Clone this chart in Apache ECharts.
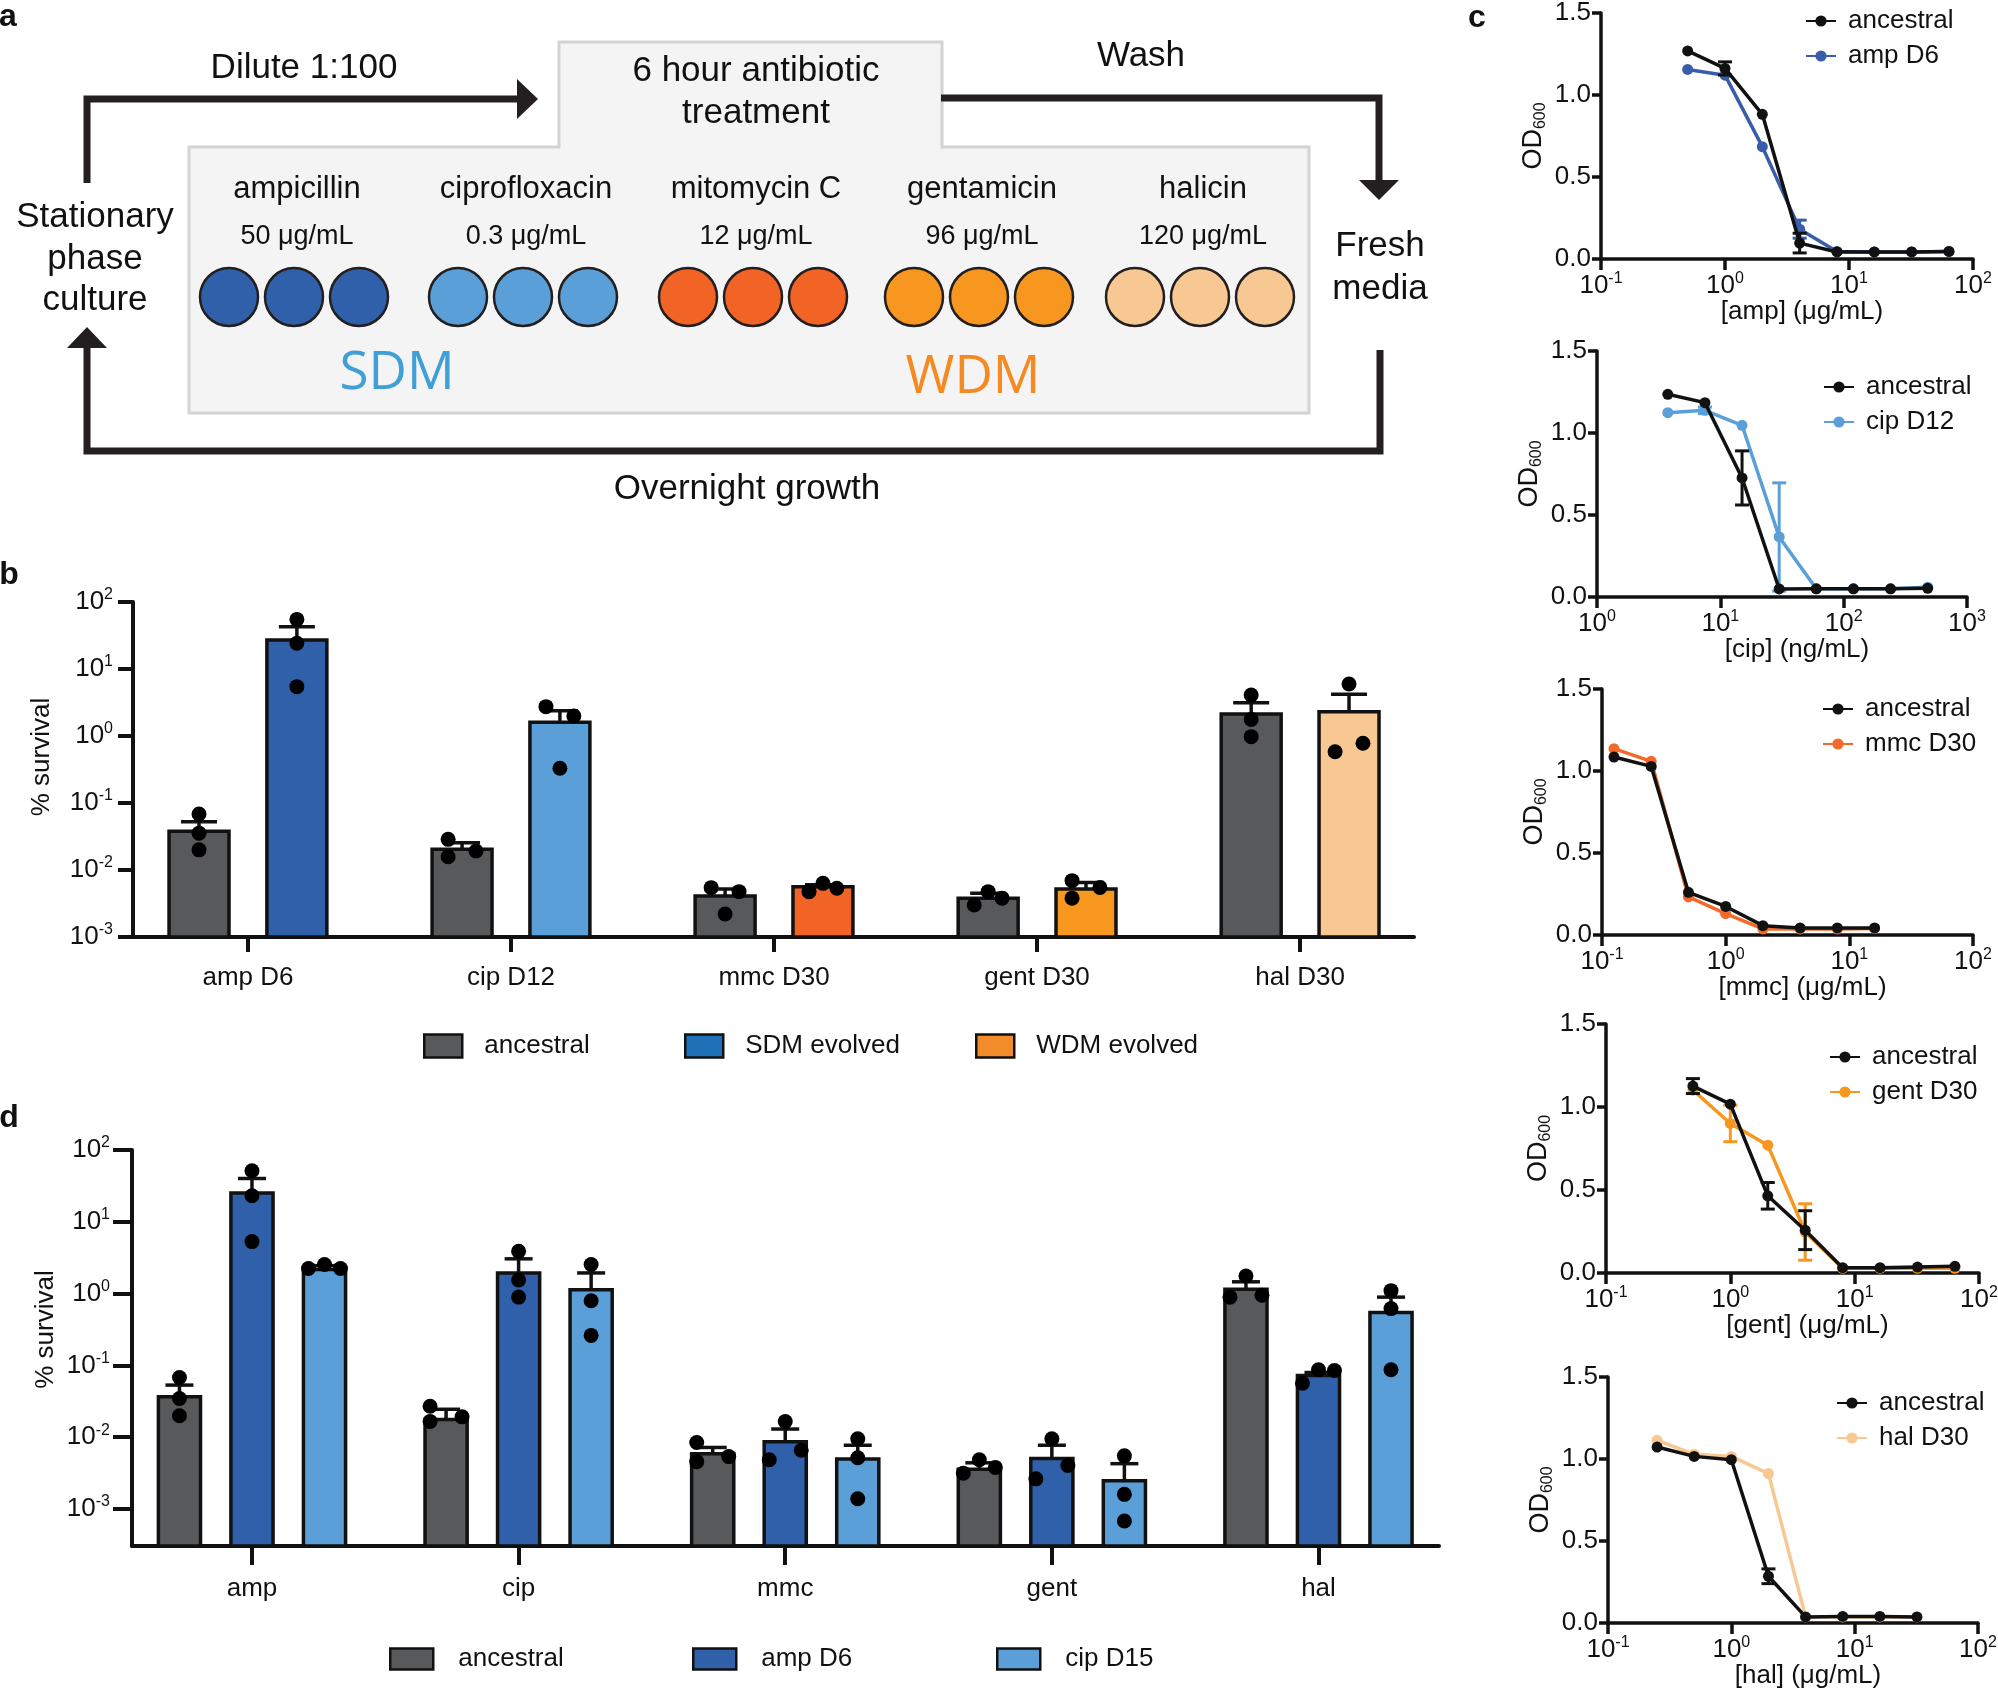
<!DOCTYPE html>
<html>
<head>
<meta charset="utf-8">
<script src="https://cdn.jsdelivr.net/npm/echarts@6/dist/echarts.min.js"></script>
<style>
  html, body { margin: 0; padding: 0; background: #fff; }
  #fig { width: 1998px; height: 1701px; }
</style>
</head>
<body>
<div id="fig"></div>
<script>
// ---- panel b : % survival, evolved lines vs ancestral ----
var catsB = ['amp D6', 'cip D12', 'mmc D30', 'gent D30', 'hal D30'];
var ancMeanB = [0.038, 0.0204, 0.0041, 0.0038, 2.13];
var ancUpperB = [0.0526, 0.0256, 0.0052, 0.0045, 3.14];
var ancDotsB = [[0.0686, 0.0355, 0.020], [0.0287, 0.0192, 0.0158], [0.00545, 0.00475, 0.0022], [0.00475, 0.0038, 0.0030], [4.09, 1.77, 0.977]];
var evoMeanB = [27.1, 1.60, 0.0056, 0.0052, 2.31];
var evoUpperB = [42.8, 2.39, 0.0060, 0.0065, 4.19];
var evoDotsB = [[55, 24.2, 5.45], [2.74, 1.99, 0.33], [0.00632, 0.00475, 0.00533], [0.00694, 0.0055, 0.0038], [5.97, 0.583, 0.778]];

// ---- panel d : cross-survival of amp D6 / cip D15 ----
var catsD = ['amp', 'cip', 'mmc', 'gent', 'hal'];
var ancMeanD = [0.0367, 0.0176, 0.0059, 0.00357, 1.15];
var ancUpperD = [0.0532, 0.0245, 0.0072, 0.0044, 1.46];
var ancDotsD = [[0.0678, 0.0346, 0.0199], [0.027, 0.0192, 0.0166], [0.00843, 0.00457, 0.00537], [0.00486, 0.0038, 0.00316], [1.76, 0.893, 0.95]];
var ampMeanD = [25.2, 1.94, 0.00863, 0.00504, 0.0723];
var ampUpperD = [40.1, 3.05, 0.0130, 0.00773, 0.0796];
var ampDotsD = [[51.3, 23.1, 5.3], [3.89, 1.55, 0.894], [0.01656, 0.00659, 0.00486], [0.00953, 0.00403, 0.00263], [0.0869, 0.085, 0.0565]];
var cipMeanD = [2.17, 1.13, 0.00498, 0.00247, 0.547];
var cipUpperD = [2.45, 1.94, 0.00773, 0.00428, 0.893];
var cipDotsD = [[2.24, 2.54, 2.24], [2.54, 0.794, 0.262], [0.00953, 0.00517, 0.00139], [0.0055, 0.0016, 0.00068], [1.10, 0.618, 0.0869]];

// ---- panel c : OD600 dose response ----
var ampConc = [0.5, 1, 2, 4, 8, 16, 32, 64];
var ampAnc = [1.269, 1.162, 0.882, 0.097, 0.043, 0.043, 0.043, 0.046];
var ampAncErr = [0, 0.04, 0, 0.06, 0, 0, 0, 0];
var ampD6 = [1.156, 1.121, 0.685, 0.182, 0.046, 0.043, 0.043, 0.046];
var ampD6Err = [0, 0, 0, 0.055, 0, 0, 0, 0];

var cipConc = [3.75, 7.5, 15, 30, 60, 120, 240, 480];
var cipAnc = [1.236, 1.185, 0.726, 0.049, 0.05, 0.05, 0.05, 0.053];
var cipAncErr = [0, 0, 0.165, 0, 0, 0, 0, 0];
var cipD12 = [1.124, 1.138, 1.047, 0.366, 0.05, 0.05, 0.05, 0.06];
var cipD12Err = [0, 0.02, 0, 0.33, 0, 0, 0, 0];

var mmcConc = [0.125, 0.25, 0.5, 1, 2, 4, 8, 16];
var mmcAnc = [1.085, 1.028, 0.26, 0.174, 0.057, 0.043, 0.043, 0.043];
var mmcD30 = [1.136, 1.059, 0.232, 0.13, 0.037, 0.037, 0.037, 0.04];

var gentConc = [0.5, 1, 2, 4, 8, 16, 32, 64];
var gentAnc = [1.126, 1.017, 0.465, 0.258, 0.032, 0.032, 0.036, 0.04];
var gentAncErr = [0.045, 0, 0.08, 0.117, 0, 0, 0, 0];
var gentD30 = [1.102, 0.901, 0.77, 0.247, 0.028, 0.028, 0.028, 0.028];
var gentD30Err = [0, 0.11, 0, 0.17, 0, 0, 0, 0];

var halConc = [0.25, 0.5, 1, 2, 4, 8, 16, 32];
var halAnc = [1.073, 1.016, 0.996, 0.285, 0.037, 0.04, 0.04, 0.037];
var halAncErr = [0, 0, 0, 0.045, 0, 0, 0, 0];
var halD30 = [1.114, 1.029, 1.016, 0.911, 0.037, 0.037, 0.037, 0.037];

// ---- panel a : schematic text ----
var drugNames = ['ampicillin', 'ciprofloxacin', 'mitomycin C', 'gentamicin', 'halicin'];
var drugDoses = ['50 μg/mL', '0.3 μg/mL', '12 μg/mL', '96 μg/mL', '120 μg/mL'];

// dot jitter (-1 left, 0 centre, 1 right), layout only
var ancJitB = [[0, 0, 0], [-1, 1, -1], [-1, 1, 0], [0, 1, -1], [0, 0, 0]];
var evoJitB = [[0, 0, 0], [-1, 1, 0], [0, -1, 1], [-1, 1, -1], [0, -1, 1]];
var ancJitD = [[0, 0, 0], [-1, 1, -1], [-1, -1, 1], [0, 1, -1], [0, -1, 1]];
var ampJitD = [[0, 0, 0], [0, 0, 0], [0, 1, -1], [0, 1, -1], [0, 1, -1]];
var cipJitD = [[-1, 0, 1], [0, 0, 0], [0, 0, 0], [0, 0, 0], [0, 0, 0]];

var FONT = '"Liberation Sans", Arial, Helvetica, sans-serif';
var INK = '#111111';
var GREY = '#58595b';
var AMP = '#3160ab', CIP = '#5a9fd8', MMC = '#f26426', GENT = '#f7971f', HAL = '#f8c893';
var evoFillB = [AMP, CIP, MMC, GENT, HAL];

var chart = echarts.init(document.getElementById('fig'));

function powLabel(v) {
    var e = Math.round(Math.log(v) / Math.LN10);
    return '{b|10}{s|' + e + '}';
}
var powRich = {
    b: { fontSize: 26, fontFamily: FONT, color: INK, lineHeight: 30 },
    s: { fontSize: 16, fontFamily: FONT, color: INK, lineHeight: 20, verticalAlign: 'top' }
};
var noName = function (n) { return n.split('#')[0]; };

//bar drawn from the axis bottom up to the mean
function barSeries(name, xi, offset, halfW, means, idx, fills, legendColor) {
    return {
        type: 'custom', name: name, xAxisIndex: xi, yAxisIndex: xi, z: 2,
        encode: { x: 0, y: 1 },
        itemStyle: { color: legendColor, borderColor: INK, borderWidth: 2 },
        renderItem: function (params, api) {
            var x = api.value(0), v = api.value(1);
            var p0 = api.coord([x - halfW, v]);
            var p1 = api.coord([x + halfW, v]);
            var cs = params.coordSys;
            return {
                type: 'rect',
                shape: { x: p0[0], y: p0[1], width: p1[0] - p0[0], height: cs.y + cs.height - p0[1] },
                style: { fill: api.visual('color'), stroke: INK, lineWidth: 3.5 }
            };
        },
        data: idx.map(function (i) {
            return { value: [i + offset, means[i]], itemStyle: { color: fills[i] } };
        })
    };
}

//upper SEM whisker
function upErrSeries(xi, offset, cap, means, uppers) {
    return {
        type: 'custom', xAxisIndex: xi, yAxisIndex: xi, z: 3,
        encode: { x: 0, y: 1 },
        renderItem: function (params, api) {
            var a = api.coord([api.value(0), api.value(1)]);
            var b = api.coord([api.value(0), api.value(2)]);
            var st = { stroke: INK, lineWidth: 3.5 };
            return {
                type: 'group', children: [
                    { type: 'line', shape: { x1: a[0], y1: a[1], x2: b[0], y2: b[1] }, style: st },
                    { type: 'line', shape: { x1: b[0] - cap, y1: b[1], x2: b[0] + cap, y2: b[1] }, style: st }
                ]
            };
        },
        data: means.map(function (m, i) { return [i + offset, m, uppers[i]]; })
    };
}

function dotSeries(xi, offset, unit, dots, jit) {
    var pts = [];
    dots.forEach(function (row, i) {
        row.forEach(function (v, k) { pts.push([i + offset + jit[i][k] * unit, v]); });
    });
    return {
        type: 'scatter', xAxisIndex: xi, yAxisIndex: xi, z: 4,
        symbol: 'circle', symbolSize: 15, itemStyle: { color: '#000', opacity: 1 }, data: pts
    };
}

function lineSeries(name, gi, xs, ys, color, z) {
    return {
        type: 'line', name: name, xAxisIndex: gi, yAxisIndex: gi, z: z,
        symbol: 'circle', symbolSize: 11, showSymbol: true,
        lineStyle: { color: color, width: 3.5 }, itemStyle: { color: color, opacity: 1 },
        data: xs.map(function (x, i) { return [x, ys[i]]; })
    };
}

function symErrSeries(gi, xs, ys, errs, color, z) {
    var d = [];
    xs.forEach(function (x, i) { if (errs[i] > 0) d.push([x, ys[i], errs[i]]); });
    return {
        type: 'custom', xAxisIndex: gi, yAxisIndex: gi, z: z,
        encode: { x: 0, y: 1 },
        renderItem: function (params, api) {
            var x = api.value(0), y = api.value(1), e = api.value(2);
            var lo = api.coord([x, y - e]), hi = api.coord([x, y + e]);
            var st = { stroke: color, lineWidth: 3 };
            return {
                type: 'group', children: [
                    { type: 'line', shape: { x1: lo[0], y1: lo[1], x2: hi[0], y2: hi[1] }, style: st },
                    { type: 'line', shape: { x1: lo[0] - 7, y1: lo[1], x2: lo[0] + 7, y2: lo[1] }, style: st },
                    { type: 'line', shape: { x1: hi[0] - 7, y1: hi[1], x2: hi[0] + 7, y2: hi[1] }, style: st }
                ]
            };
        },
        data: d
    };
}

var axisLineStyle = { color: INK, width: 4 };
var thinLine = { color: INK, width: 3.5 };

function catXAxis(gi, cats, min, max, tickLen, margin) {
    return {
        type: 'value', gridIndex: gi, min: min, max: max,
        splitLine: { show: false },
        axisLine: { show: true, onZero: false, lineStyle: axisLineStyle },
        axisTick: { show: true, customValues: [0, 1, 2, 3, 4], length: tickLen, lineStyle: axisLineStyle },
        axisLabel: {
            customValues: [0, 1, 2, 3, 4], margin: margin, fontSize: 26, fontFamily: FONT, color: INK,
            formatter: function (v) { return cats[Math.round(v)]; }
        }
    };
}

function survivalYAxis(gi, min, gap, shift, tickLen, margin, custom) {
    var ax = {
        type: 'log', logBase: 10, gridIndex: gi, min: min, max: 100,
        name: '% survival', nameLocation: 'middle', nameGap: gap, nameMoveOverlap: false,
        nameTextStyle: { fontSize: 26, fontFamily: FONT, color: INK, padding: [0, 0, 0, shift] },
        splitLine: { show: false },
        axisLine: { show: true, onZero: false, lineStyle: axisLineStyle },
        axisTick: { show: true, length: tickLen, lineStyle: axisLineStyle },
        axisLabel: { margin: margin, formatter: powLabel, rich: powRich }
    };
    if (custom) {
        ax.axisTick.customValues = custom;
        ax.axisLabel.customValues = custom;
    }
    return ax;
}

function concXAxis(gi, min, max, name) {
    return {
        type: 'log', logBase: 10, gridIndex: gi, min: min, max: max,
        name: name, nameLocation: 'middle', nameGap: 40, nameMoveOverlap: false,
        nameTextStyle: { fontSize: 26, fontFamily: FONT, color: INK, padding: [0, 0, 0, 30] },
        splitLine: { show: false },
        axisLine: { show: true, onZero: false, lineStyle: thinLine },
        axisTick: { show: true, length: 11, lineStyle: thinLine },
        axisLabel: { margin: 12, formatter: powLabel, rich: powRich }
    };
}

function odYAxis(gi) {
    return {
        type: 'value', gridIndex: gi, min: 0, max: 1.5, interval: 0.5,
        name: '{m|OD}{u|600}', nameLocation: 'middle', nameGap: 52, nameMoveOverlap: false,
        nameTextStyle: {
            rich: {
                m: { fontSize: 27, fontFamily: FONT, color: INK, lineHeight: 30 },
                u: { fontSize: 16, fontFamily: FONT, color: INK, lineHeight: 18, verticalAlign: 'bottom' }
            }
        },
        splitLine: { show: false },
        axisLine: { show: true, onZero: false, lineStyle: thinLine },
        axisTick: { show: true, length: 9, lineStyle: thinLine },
        axisLabel: {
            margin: 10, fontSize: 26, fontFamily: FONT, color: INK,
            formatter: function (v) { return v.toFixed(1); }
        }
    };
}

function swatchLegend(name, left, top, w, h, pad) {
    return {
        data: [name], left: left - 5, top: top - 5, icon: 'rect', itemWidth: w, itemHeight: h,
        selectedMode: false, formatter: noName,
        itemStyle: { borderColor: INK, borderWidth: 2.5 },
        textStyle: { fontSize: 26, fontFamily: FONT, color: INK, lineHeight: 28, padding: [0, 0, 0, pad] }
    };
}

function lineLegend(names, left, top) {
    return {
        data: names, left: left - 5, top: top - 5, orient: 'vertical', itemGap: 7,
        itemWidth: 30, itemHeight: 14, selectedMode: false, formatter: noName,
        textStyle: { fontSize: 26, fontFamily: FONT, color: INK, lineHeight: 28, padding: [0, 0, 0, 7] }
    };
}

// panel a drawing
function txt(str, x, y, size, color, extra) {
    var st = {
        text: str, fontSize: size, fontFamily: FONT, fill: color || INK,
        align: 'center', verticalAlign: 'middle', textAlign: 'center', textVerticalAlign: 'middle'
    };
    if (extra) { for (var k in extra) st[k] = extra[k]; }
    return { type: 'text', x: x, y: y, style: st, silent: true };
}
var LINE = '#231f20';
var flowStroke = { stroke: LINE, lineWidth: 7, fill: null };
var graphics = [
    { type: 'polygon', shape: { points: [[559, 42], [942, 42], [942, 147], [1309, 147], [1309, 413], [189, 413], [189, 147], [559, 147]] },
      style: { fill: '#f4f4f4', stroke: '#d3d3d3', lineWidth: 3 } },
    { type: 'polyline', shape: { points: [[87, 183], [87, 99], [520, 99]] }, style: flowStroke },
    { type: 'polygon', shape: { points: [[517, 79], [538, 99], [517, 119]] }, style: { fill: LINE } },
    { type: 'polyline', shape: { points: [[941, 98], [1379, 98], [1379, 182]] }, style: flowStroke },
    { type: 'polygon', shape: { points: [[1359, 180], [1399, 180], [1379, 200]] }, style: { fill: LINE } },
    { type: 'polyline', shape: { points: [[1380, 350], [1380, 451], [87, 451], [87, 346]] }, style: flowStroke },
    { type: 'polygon', shape: { points: [[67, 348], [107, 348], [87, 327]] }, style: { fill: LINE } },
    txt('Dilute 1:100', 304, 68, 35),
    txt('6 hour antibiotic', 756, 71, 35),
    txt('treatment', 756, 113, 35),
    txt('Wash', 1141, 56, 35),
    txt('Stationary', 95, 217, 35),
    txt('phase', 95, 259, 35),
    txt('culture', 95, 300, 35),
    txt('Fresh', 1380, 246, 35),
    txt('media', 1380, 289, 35),
    txt('Overnight growth', 747, 489, 35),
    txt('SDM', 397, 374, 53, '#3f9fd6', { fontFamily: '"Open Sans", ' + FONT }),
    txt('WDM', 973, 378, 53, '#f48a21', { fontFamily: '"Open Sans", ' + FONT }),
    txt('a', 8, 17, 32, INK, { fontWeight: 'bold' }),
    txt('b', 9, 575, 32, INK, { fontWeight: 'bold' }),
    txt('c', 1477, 18, 32, INK, { fontWeight: 'bold' }),
    txt('d', 9, 1118, 32, INK, { fontWeight: 'bold' })
];
var groupX = [294, 523, 753, 979, 1200];
var wellFill = [AMP, CIP, MMC, GENT, HAL];
groupX.forEach(function (gx, i) {
    graphics.push(txt(drugNames[i], gx + 3, 189, 31));
    graphics.push(txt(drugDoses[i], gx + 3, 237, 27));
    [-65, 0, 65].forEach(function (dx) {
        graphics.push({ type: 'circle', shape: { cx: gx + dx, cy: 297, r: 29 },
            style: { fill: wellFill[i], stroke: LINE, lineWidth: 2.5 }, silent: true });
    });
});

var grid = [
    { left: 133, top: 602, width: 1281, height: 335 },
    { left: 132, top: 1150, width: 1307, height: 396 },
    { left: 1601, top: 13, width: 372, height: 246 },
    { left: 1597, top: 351, width: 370, height: 246 },
    { left: 1602, top: 689, width: 371, height: 246 },
    { left: 1606, top: 1024, width: 373, height: 249 },
    { left: 1608, top: 1377, width: 370, height: 246 }
].map(function (g) { g.outerBoundsMode = 'none'; g.containLabel = false; return g; });

var bOff = 0.186, bHalf = 0.114, bUnit = 0.053;
var dOff = 0.272, dHalf = 0.079, dUnit = 0.06;

var series = [
    barSeries('ancestral#b', 0, -bOff, bHalf, ancMeanB, [0, 1, 2, 3, 4], [GREY, GREY, GREY, GREY, GREY], GREY),
    barSeries('SDM evolved', 0, bOff, bHalf, evoMeanB, [0, 1], evoFillB, '#1f72b8'),
    barSeries('WDM evolved', 0, bOff, bHalf, evoMeanB, [2, 3, 4], evoFillB, '#f28b2a'),
    upErrSeries(0, -bOff, 18, ancMeanB, ancUpperB),
    upErrSeries(0, bOff, 18, evoMeanB, evoUpperB),
    dotSeries(0, -bOff, bUnit, ancDotsB, ancJitB),
    dotSeries(0, bOff, bUnit, evoDotsB, evoJitB),

    barSeries('ancestral#d', 1, -dOff, dHalf, ancMeanD, [0, 1, 2, 3, 4], [GREY, GREY, GREY, GREY, GREY], GREY),
    barSeries('amp D6#d', 1, 0, dHalf, ampMeanD, [0, 1, 2, 3, 4], [AMP, AMP, AMP, AMP, AMP], AMP),
    barSeries('cip D15#d', 1, dOff, dHalf, cipMeanD, [0, 1, 2, 3, 4], [CIP, CIP, CIP, CIP, CIP], CIP),
    upErrSeries(1, -dOff, 14, ancMeanD, ancUpperD),
    upErrSeries(1, 0, 14, ampMeanD, ampUpperD),
    upErrSeries(1, dOff, 14, cipMeanD, cipUpperD),
    dotSeries(1, -dOff, dUnit, ancDotsD, ancJitD),
    dotSeries(1, 0, dUnit, ampDotsD, ampJitD),
    dotSeries(1, dOff, dUnit, cipDotsD, cipJitD),

    lineSeries('amp D6#c1', 2, ampConc, ampD6, '#3a5dab', 3),
    symErrSeries(2, ampConc, ampD6, ampD6Err, '#3a5dab', 4),
    lineSeries('ancestral#c1', 2, ampConc, ampAnc, INK, 5),
    symErrSeries(2, ampConc, ampAnc, ampAncErr, INK, 6),

    lineSeries('cip D12#c2', 3, cipConc, cipD12, CIP, 3),
    symErrSeries(3, cipConc, cipD12, cipD12Err, CIP, 4),
    lineSeries('ancestral#c2', 3, cipConc, cipAnc, INK, 5),
    symErrSeries(3, cipConc, cipAnc, cipAncErr, INK, 6),

    lineSeries('mmc D30#c3', 4, mmcConc, mmcD30, '#f26a2a', 3),
    lineSeries('ancestral#c3', 4, mmcConc, mmcAnc, INK, 5),

    lineSeries('gent D30#c4', 5, gentConc, gentD30, GENT, 3),
    symErrSeries(5, gentConc, gentD30, gentD30Err, GENT, 4),
    lineSeries('ancestral#c4', 5, gentConc, gentAnc, INK, 5),
    symErrSeries(5, gentConc, gentAnc, gentAncErr, INK, 6),

    lineSeries('hal D30#c5', 6, halConc, halD30, HAL, 3),
    lineSeries('ancestral#c5', 6, halConc, halAnc, INK, 5),
    symErrSeries(6, halConc, halAnc, halAncErr, INK, 6)
];

var option = {
    animation: false,
    backgroundColor: '#ffffff',
    textStyle: { fontFamily: FONT, color: INK },
    grid: grid,
    xAxis: [
        catXAxis(0, catsB, -0.437, 4.433, 15, 28),
        catXAxis(1, catsD, -0.450, 4.452, 19, 30),
        concXAxis(2, 0.1, 100, '[amp] (μg/mL)'),
        concXAxis(3, 1, 1000, '[cip] (ng/mL)'),
        concXAxis(4, 0.1, 100, '[mmc] (μg/mL)'),
        concXAxis(5, 0.1, 100, '[gent] (μg/mL)'),
        concXAxis(6, 0.1, 100, '[hal] (μg/mL)')
    ],
    yAxis: [
        survivalYAxis(0, 0.001, 78, 25, 15, 20, null),
        survivalYAxis(1, Math.pow(10, -3.515), 73, 37, 19, 22, [0.001, 0.01, 0.1, 1, 10, 100]),
        odYAxis(2), odYAxis(3), odYAxis(4), odYAxis(5), odYAxis(6)
    ],
    legend: [
        swatchLegend('ancestral#b', 423, 1032, 38, 23, 17),
        swatchLegend('SDM evolved', 684, 1032, 38, 23, 17),
        swatchLegend('WDM evolved', 975, 1032, 38, 23, 17),
        swatchLegend('ancestral#d', 389, 1645, 43, 21, 20),
        swatchLegend('amp D6#d', 692, 1645, 43, 21, 20),
        swatchLegend('cip D15#d', 996, 1645, 43, 21, 20),
        lineLegend(['ancestral#c1', 'amp D6#c1'], 1805, 7),
        lineLegend(['ancestral#c2', 'cip D12#c2'], 1823, 373),
        lineLegend(['ancestral#c3', 'mmc D30#c3'], 1822, 695),
        lineLegend(['ancestral#c4', 'gent D30#c4'], 1829, 1043),
        lineLegend(['ancestral#c5', 'hal D30#c5'], 1836, 1389)
    ],
    graphic: { elements: graphics },
    series: series
};

chart.setOption(option);
</script>
</body>
</html>
